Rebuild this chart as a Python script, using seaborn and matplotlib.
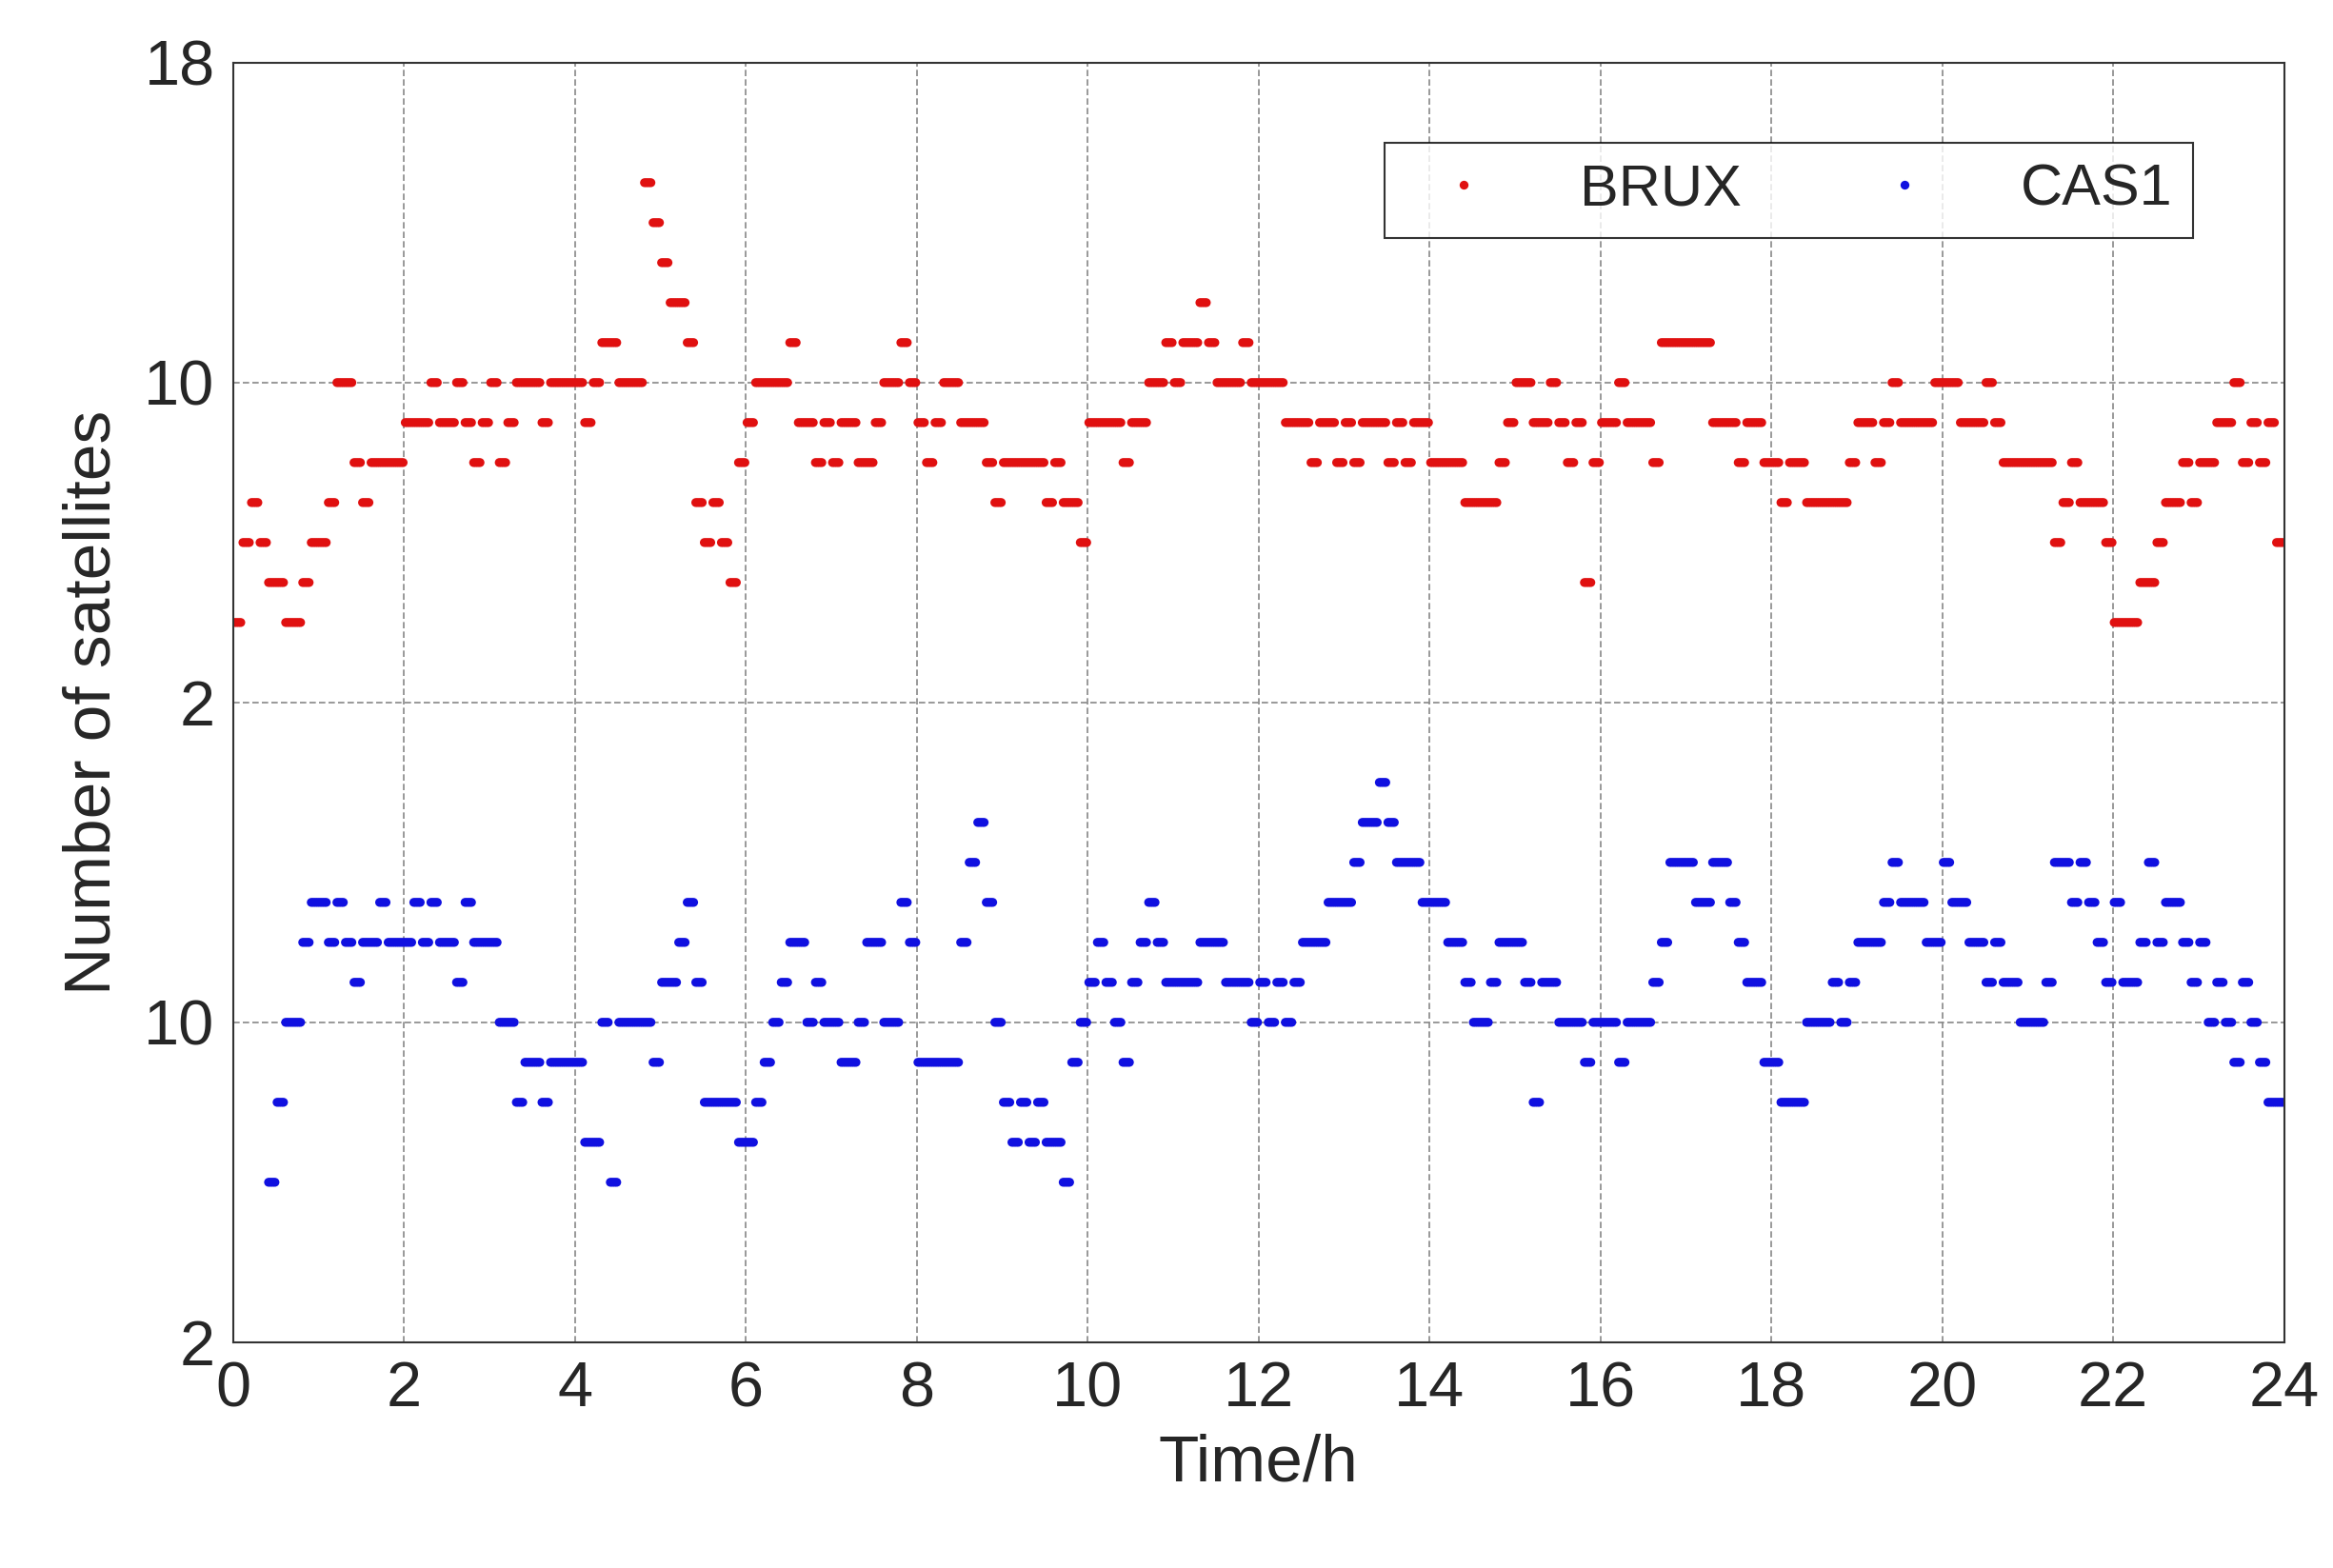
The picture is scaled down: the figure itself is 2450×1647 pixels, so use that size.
import numpy as np
import pandas as pd
import matplotlib
matplotlib.use("Agg")
import matplotlib.pyplot as plt
import seaborn as sns

nan = np.nan
brux = [4,6,7,6,5,5,4,4,5,6,
        6,7,10,10,8,7,8,8,8,8,
        9,9,9,10,9,9,10,9,8,9,
        10,8,9,10,10,10,9,10,10,10,
        10,9,10,11,11,10,10,10,15,14,
        13,12,12,11,7,6,7,6,5,8,
        9,10,10,10,10,11,9,9,8,9,
        8,9,9,8,8,9,10,10,11,10,
        9,8,9,10,10,9,9,9,8,7,
        8,8,8,8,8,7,8,7,7,6,
        9,9,9,9,8,9,9,10,10,11,
        10,11,11,12,11,10,10,10,11,10,
        10,10,10,9,9,9,8,9,9,8,
        9,8,9,9,9,8,9,8,9,9,
        8,8,8,8,7,7,7,7,8,9,
        10,10,9,9,10,9,8,9,5,8,
        9,9,10,9,9,9,8,11,11,11,
        11,11,11,9,9,9,8,9,9,8,
        8,7,8,8,7,7,7,7,7,8,
        9,9,8,9,10,9,9,9,9,10,
        10,10,9,9,9,10,9,8,8,8,
        8,8,8,6,7,8,7,7,7,6,
        4,4,4,5,5,6,7,7,8,7,
        8,8,9,9,10,8,9,8,9,6]
cas1 = [nan,nan,nan,nan,6,8,10,10,12,13,
        13,12,13,12,11,12,12,13,12,12,
        12,13,12,13,12,12,11,13,12,12,
        12,10,10,8,9,9,8,9,9,9,
        9,7,7,10,6,10,10,10,10,9,
        11,11,12,13,11,8,8,8,8,7,
        7,8,9,10,11,12,12,10,11,10,
        10,9,9,10,12,12,10,10,13,12,
        9,9,9,9,9,12,14,15,13,10,
        8,7,8,7,8,7,7,6,9,10,
        11,12,11,10,9,11,12,13,12,11,
        11,11,11,12,12,12,11,11,11,10,
        11,10,11,10,11,12,12,12,13,13,
        13,14,15,15,16,15,14,14,14,13,
        13,13,12,12,11,10,10,11,12,12,
        12,11,8,11,11,10,10,10,9,10,
        10,10,9,10,10,10,11,12,14,14,
        14,13,13,14,14,13,12,11,11,9,
        9,8,8,8,10,10,10,11,10,11,
        12,12,12,13,14,13,13,13,12,12,
        14,13,13,12,12,11,12,11,11,10,
        10,10,11,14,14,13,14,13,12,11,
        13,11,11,12,14,12,13,13,12,11,
        12,10,11,10,9,11,10,9,8,8]
yticks = [2, 10, 18, 26, 34]
yticklabels = ["2", "10", "2", "10", "18"]
offset = 16  # upper panel shift

# each 0.1 h reading is held over 4 epochs of 0.025 h
sub = 4
time_h = np.arange(len(brux) * sub) * (0.1 / sub) + 0.0125
df = pd.concat([
    pd.DataFrame({"t": time_h, "y": np.repeat(np.array(brux, float), sub) + offset, "s": "BRUX"}),
    pd.DataFrame({"t": time_h, "y": np.repeat(np.array(cas1, float), sub), "s": "CAS1"}),
]).dropna()

sns.set_style("white")
plt.rcParams['font.family'] = ['Arial', 'Liberation Sans', 'DejaVu Sans']
fig = plt.figure(figsize=(24.5, 16.47), dpi=100)
ax = fig.add_axes([0.10, 0.144, 0.879, 0.816])
sns.scatterplot(data=df, x="t", y="y", hue="s", palette={"BRUX": "#e01010", "CAS1": "#1010e0"},
                s=45, linewidth=0, ax=ax)
ax.set_xlim(0, 24)
ax.set_ylim(2, 34)
ax.set_xticks(range(0, 25, 2))
ax.set_yticks(yticks)
ax.set_yticklabels(yticklabels)
ax.tick_params(labelsize=48, direction="in", length=8, pad=14)
ax.grid(True, linestyle=(0, (4, 2)), color="#888888", linewidth=1.2)
for sp in ax.spines.values():
    sp.set_color("#333333"); sp.set_linewidth(1.5)
ax.set_xlabel("Time/h", fontsize=50, labelpad=10)
ax.set_ylabel("Number of satellites", fontsize=50, labelpad=16)
leg = ax.legend(title=None, ncol=2, loc="upper right", bbox_to_anchor=(0.97, 0.96), fontsize=44,
                frameon=True, fancybox=False, edgecolor="black", markerscale=1.0,
                handletextpad=1.0, columnspacing=1.8, borderpad=0.35)
leg.get_frame().set_linewidth(1.5)
fig.savefig("out.png", dpi=100)
